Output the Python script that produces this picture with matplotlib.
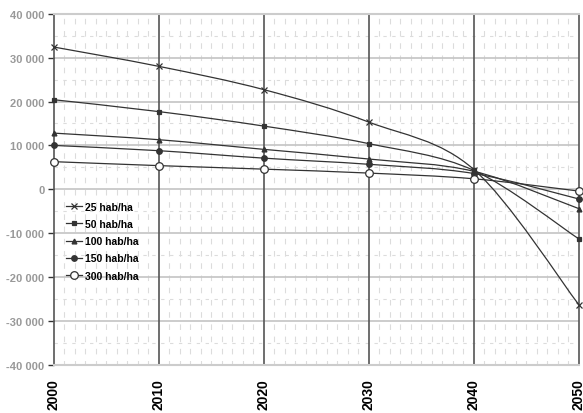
import numpy as np
import matplotlib
matplotlib.use('Agg')
import matplotlib.pyplot as plt
from matplotlib.path import Path
from matplotlib.patches import PathPatch
from matplotlib.lines import Line2D
from matplotlib.ticker import MultipleLocator, FuncFormatter

plt.rcParams['font.family'] = ['Liberation Sans', 'DejaVu Sans']

years = [2000, 2010, 2020, 2030, 2040, 2050]
labels = ['25 hab/ha', '50 hab/ha', '100 hab/ha', '150 hab/ha', '300 hab/ha']
v25 = [32400, 28000, 22700, 15300, 4500, -26300]
v50 = [20400, 17700, 14400, 10400, 4300, -11300]
v100 = [12800, 11300, 9100, 6900, 4100, -4400]
v150 = [10000, 8800, 7100, 5700, 3600, -2200]
v300 = [6300, 5400, 4600, 3700, 2400, -400]
series = [v25, v50, v100, v150, v300]

markers = ['x', 's', '^', 'o', 'o']
msizes = [5, 3, 3.5, 4, 5.5]
mfaces = ['#333333', '#333333', '#333333', '#333333', 'white']
col = '#333333'


def smooth_path(x, y):
    '''Excel-like smoothed line through points (bezier, catmull-rom style).'''
    pts = np.column_stack([x, y]).astype(float)
    n = len(pts)
    verts = [pts[0]]
    codes = [Path.MOVETO]
    for i in range(n - 1):
        p0 = pts[i - 1] if i > 0 else pts[i]
        p1 = pts[i]
        p2 = pts[i + 1]
        p3 = pts[i + 2] if i + 2 < n else pts[i + 1]
        c1 = p1 + (p2 - p0) / 6.0
        c2 = p2 - (p3 - p1) / 6.0
        verts += [c1, c2, p2]
        codes += [Path.CURVE4] * 3
    return Path(verts, codes)


fig = plt.figure(figsize=(5.83, 4.14), dpi=100)
ax = fig.add_axes([0.0926, 0.116, 0.9004, 0.8485])

ax.set_xlim(2000, 2050)
ax.set_ylim(-40000, 40000)

# background texture (excel pattern), approximated with dashed minor lines
for yr in range(2000, 2051):
    if yr % 10 != 0:
        ax.axvline(yr, color='#dcdcdc', lw=0.8, ls=(1, (5, 6)), zorder=0)
for yv in range(-35000, 40000, 10000):
    ax.axhline(yv, color='#dcdcdc', lw=0.8, ls=(0, (3, 5)), zorder=0)
for yv in range(-30000, 40000, 10000):
    ax.axhline(yv, color='#c4c4c4', lw=1.2, zorder=1)
for yr in range(2010, 2050, 10):
    ax.axvline(yr, color='#555555', lw=1.2, zorder=1)

for vals, m, ms, mf, lab in zip(series, markers, msizes, mfaces, labels):
    patch = PathPatch(smooth_path(years, vals), fill=False, edgecolor=col, lw=0.9, zorder=3)
    ax.add_patch(patch)
    ax.plot(years, vals, ls='none', marker=m, ms=ms, mfc=mf, mec=col, mew=0.9,
            zorder=4, clip_on=False)

for s in ['left', 'right']:
    ax.spines[s].set_color('#555555')
    ax.spines[s].set_linewidth(1.2)
for s in ['top', 'bottom']:
    ax.spines[s].set_color('#cccccc')
    ax.spines[s].set_linewidth(1.5)

ax.xaxis.set_major_locator(MultipleLocator(10))
ax.yaxis.set_major_locator(MultipleLocator(10000))
ax.yaxis.set_major_formatter(FuncFormatter(lambda v, p: '{:,.0f}'.format(v).replace(',', ' ')))
ax.tick_params(axis='y', length=4, width=1, color='#333333', labelsize=8, labelcolor='#999999', pad=3)
ax.tick_params(axis='x', length=0, labelsize=10, labelcolor='black', pad=9.5)
for t in ax.get_yticklabels():
    t.set_fontweight('bold')
for t in ax.get_xticklabels():
    t.set_fontweight('bold')
    t.set_rotation(90)

handles = [Line2D([], [], color=col, lw=0.9, marker=m, ms=ms, mfc=mf, mec=col, mew=0.9)
           for m, ms, mf in zip(markers, msizes, mfaces)]
leg = ax.legend(handles, labels, loc='upper left', bbox_to_anchor=(0.014, 0.477), frameon=False,
                prop={'weight': 'bold', 'size': 7.5}, handlelength=1.6, handletextpad=0.3,
                labelspacing=0.7, borderaxespad=0)
leg.set_zorder(5)

fig.savefig('out.png', dpi=100)
